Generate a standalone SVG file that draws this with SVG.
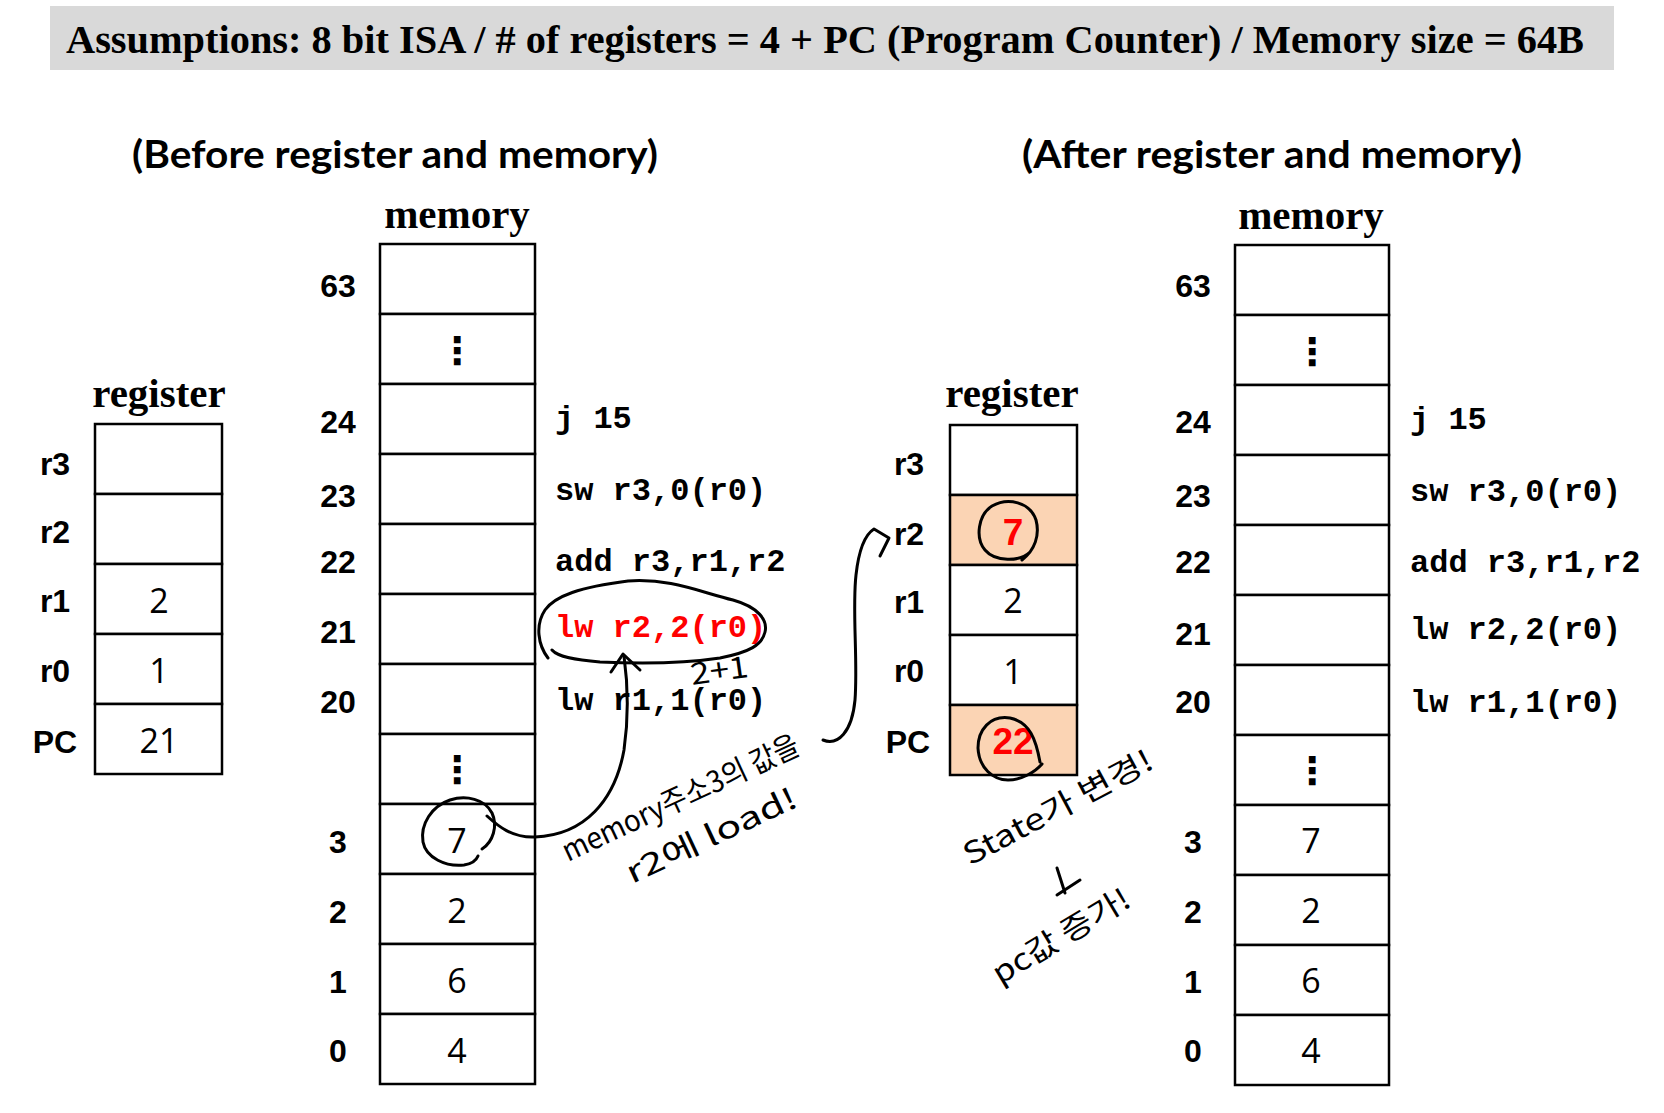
<svg xmlns="http://www.w3.org/2000/svg" width="1664" height="1113" viewBox="0 0 1664 1113">
<style>
.cell{fill:#fff;stroke:#000;stroke-width:2.5}
.hi{fill:#FBD4B4;stroke:#000;stroke-width:2.5}
.lbl{font-family:"Liberation Sans",Arial,sans-serif;font-weight:bold;font-size:32px;text-anchor:middle}
.val{font-family:"Open Sans","Noto Sans",sans-serif;font-size:34px;text-anchor:middle}
.rval{font-family:"Liberation Sans",Arial,sans-serif;font-weight:bold;font-size:37px;fill:#f00;text-anchor:middle}
.code{font-family:"Liberation Mono","Courier New",monospace;font-weight:bold;font-size:32px}
.dots{font-family:"DejaVu Sans",sans-serif;font-weight:bold;font-size:38px;text-anchor:middle}
.serif{font-family:"Liberation Serif","Times New Roman",serif;font-weight:bold;font-size:41px;text-anchor:middle}
.title{font-family:Lato,"Liberation Sans",sans-serif;font-weight:bold;font-size:38px}
.hand{fill:none;stroke:#000;stroke-width:3;stroke-linecap:round;stroke-linejoin:round}
.note{font-family:"Noto Sans CJK KR","Noto Sans",sans-serif;font-size:30px}
</style>

<g id="header">
<rect x="50" y="6" width="1564" height="64" fill="#D9D9D9"/>
<text x="66" y="53" font-family="'Liberation Serif','Times New Roman',serif" font-weight="bold" font-size="40" textLength="1518" lengthAdjust="spacingAndGlyphs">Assumptions: 8 bit ISA / # of registers = 4 + PC (Program Counter) / Memory size = 64B</text>
</g>

<g id="title-before"><text class="title" x="132" y="168" textLength="526" lengthAdjust="spacingAndGlyphs">(Before register and memory)</text></g>
<g id="title-after"><text class="title" x="1022" y="168" textLength="500" lengthAdjust="spacingAndGlyphs">(After register and memory)</text></g>

<g id="reg-before">
<text class="serif" x="159" y="407">register</text>
<rect class="cell" x="95" y="424" width="127" height="70"/>
<rect class="cell" x="95" y="494" width="127" height="70"/>
<rect class="cell" x="95" y="564" width="127" height="70"/>
<rect class="cell" x="95" y="634" width="127" height="70"/>
<rect class="cell" x="95" y="704" width="127" height="70"/>
<text class="lbl" x="55" y="475">r3</text>
<text class="lbl" x="55" y="543">r2</text>
<text class="lbl" x="55" y="612">r1</text>
<text class="lbl" x="55" y="682">r0</text>
<text class="lbl" x="55" y="753">PC</text>
<text class="val" x="159" y="613">2</text>
<text class="val" x="159" y="683">1</text>
<text class="val" x="159" y="753">21</text>
</g>

<g id="mem-before">
<text class="serif" x="457" y="228">memory</text>
<rect class="cell" x="380" y="244" width="155" height="70"/>
<rect class="cell" x="380" y="314" width="155" height="70"/>
<rect class="cell" x="380" y="384" width="155" height="70"/>
<rect class="cell" x="380" y="454" width="155" height="70"/>
<rect class="cell" x="380" y="524" width="155" height="70"/>
<rect class="cell" x="380" y="594" width="155" height="70"/>
<rect class="cell" x="380" y="664" width="155" height="70"/>
<rect class="cell" x="380" y="734" width="155" height="70"/>
<rect class="cell" x="380" y="804" width="155" height="70"/>
<rect class="cell" x="380" y="874" width="155" height="70"/>
<rect class="cell" x="380" y="944" width="155" height="70"/>
<rect class="cell" x="380" y="1014" width="155" height="70"/>
<text class="lbl" x="338" y="297">63</text>
<text class="lbl" x="338" y="433">24</text>
<text class="lbl" x="338" y="507">23</text>
<text class="lbl" x="338" y="573">22</text>
<text class="lbl" x="338" y="643">21</text>
<text class="lbl" x="338" y="713">20</text>
<text class="lbl" x="338" y="853">3</text>
<text class="lbl" x="338" y="923">2</text>
<text class="lbl" x="338" y="993">1</text>
<text class="lbl" x="338" y="1062">0</text>
<text class="dots" x="457" y="364">⋮</text>
<text class="dots" x="457" y="783">⋮</text>
<text class="val" x="457" y="853">7</text>
<text class="val" x="457" y="923">2</text>
<text class="val" x="457" y="993">6</text>
<text class="val" x="457" y="1063">4</text>
<text class="code" x="555" y="428">j 15</text>
<text class="code" x="555" y="500">sw r3,0(r0)</text>
<text class="code" x="555" y="571">add r3,r1,r2</text>
<text class="code" x="555" y="637" fill="#f00">lw r2,2(r0)</text>
<text class="code" x="555" y="710">lw r1,1(r0)</text>
</g>

<g id="reg-after">
<text class="serif" x="1012" y="407">register</text>
<rect class="cell" x="950" y="425" width="127" height="70"/>
<rect class="hi" x="950" y="495" width="127" height="70"/>
<rect class="cell" x="950" y="565" width="127" height="70"/>
<rect class="cell" x="950" y="635" width="127" height="70"/>
<rect class="hi" x="950" y="705" width="127" height="70"/>
<text class="lbl" x="909" y="475">r3</text>
<text class="lbl" x="909" y="545">r2</text>
<text class="lbl" x="909" y="613">r1</text>
<text class="lbl" x="909" y="682">r0</text>
<text class="lbl" x="908" y="753">PC</text>
<text class="rval" x="1013" y="545">7</text>
<text class="val" x="1013" y="613">2</text>
<text class="val" x="1013" y="684">1</text>
<text class="rval" x="1013" y="754">22</text>
</g>

<g id="mem-after">
<text class="serif" x="1311" y="229">memory</text>
<rect class="cell" x="1235" y="245" width="154" height="70"/>
<rect class="cell" x="1235" y="315" width="154" height="70"/>
<rect class="cell" x="1235" y="385" width="154" height="70"/>
<rect class="cell" x="1235" y="455" width="154" height="70"/>
<rect class="cell" x="1235" y="525" width="154" height="70"/>
<rect class="cell" x="1235" y="595" width="154" height="70"/>
<rect class="cell" x="1235" y="665" width="154" height="70"/>
<rect class="cell" x="1235" y="735" width="154" height="70"/>
<rect class="cell" x="1235" y="805" width="154" height="70"/>
<rect class="cell" x="1235" y="875" width="154" height="70"/>
<rect class="cell" x="1235" y="945" width="154" height="70"/>
<rect class="cell" x="1235" y="1015" width="154" height="70"/>
<text class="lbl" x="1193" y="297">63</text>
<text class="lbl" x="1193" y="433">24</text>
<text class="lbl" x="1193" y="507">23</text>
<text class="lbl" x="1193" y="573">22</text>
<text class="lbl" x="1193" y="645">21</text>
<text class="lbl" x="1193" y="713">20</text>
<text class="lbl" x="1193" y="853">3</text>
<text class="lbl" x="1193" y="923">2</text>
<text class="lbl" x="1193" y="993">1</text>
<text class="lbl" x="1193" y="1062">0</text>
<text class="dots" x="1312" y="365">⋮</text>
<text class="dots" x="1312" y="784">⋮</text>
<text class="val" x="1311" y="853">7</text>
<text class="val" x="1311" y="923">2</text>
<text class="val" x="1311" y="993">6</text>
<text class="val" x="1311" y="1063">4</text>
<text class="code" x="1410" y="429">j 15</text>
<text class="code" x="1410" y="501">sw r3,0(r0)</text>
<text class="code" x="1410" y="572">add r3,r1,r2</text>
<text class="code" x="1410" y="639">lw r2,2(r0)</text>
<text class="code" x="1410" y="712">lw r1,1(r0)</text>
</g>

<g id="annotations">
<path class="hand" d="M 548,658 C 538,645 535,625 545,610 C 555,596 580,587 628,581 C 670,578 700,592 733,600 C 758,607 768,620 765,632 C 762,645 750,652 720,658 C 680,664 640,664 600,662 C 575,660 558,657 552,650"/>
<path class="hand" d="M 482,849 C 493,842 498,826 492,813 C 485,799 466,795 450,800 C 432,806 420,824 423,842 C 426,858 446,867 464,865 C 471,864 476,861 478,856"/>
<path class="hand" d="M 1030,552 C 1020,562 995,562 985,550 C 975,538 978,515 992,506 C 1008,497 1030,502 1036,520 C 1040,535 1035,550 1022,560"/>
<path class="hand" d="M 1040,762 C 1036,740 1030,722 1010,718 C 990,715 978,730 978,748 C 979,768 993,780 1008,780 C 1022,780 1035,772 1042,764"/>
<path class="hand" d="M 1057,868 L 1065,893 M 1057,895 L 1080,880"/>
<text class="note" x="692" y="685" font-size="19" transform="rotate(-8 692 685)" textLength="58" lengthAdjust="spacingAndGlyphs">2+1</text>
<text class="note" x="568" y="862" transform="rotate(-25 568 862)" textLength="258" lengthAdjust="spacingAndGlyphs">memory주소3의 값을</text>
<text class="note" x="632" y="884" transform="rotate(-25 632 884)" textLength="185" lengthAdjust="spacingAndGlyphs">r2에 load!</text>
<text class="note" x="970" y="866" transform="rotate(-28 970 866)" textLength="210" lengthAdjust="spacingAndGlyphs">State가 변경!</text>
<text class="note" x="1000" y="985" transform="rotate(-31 1000 985)" textLength="155" lengthAdjust="spacingAndGlyphs">pc값 증가!</text>
</g>

<g id="connectors">
<path class="hand" d="M 487,816 C 498,826 512,838 535,837 C 585,835 615,800 624,750 C 629,715 628,685 624,656"/>
<path class="hand" d="M 611,672 L 623,654 L 640,670"/>
<path class="hand" d="M 823,740 C 838,746 852,732 855,700 C 858,660 852,610 856,575 C 859,548 866,534 874,529 L 889,538 L 880,556"/>
</g>
</svg>
